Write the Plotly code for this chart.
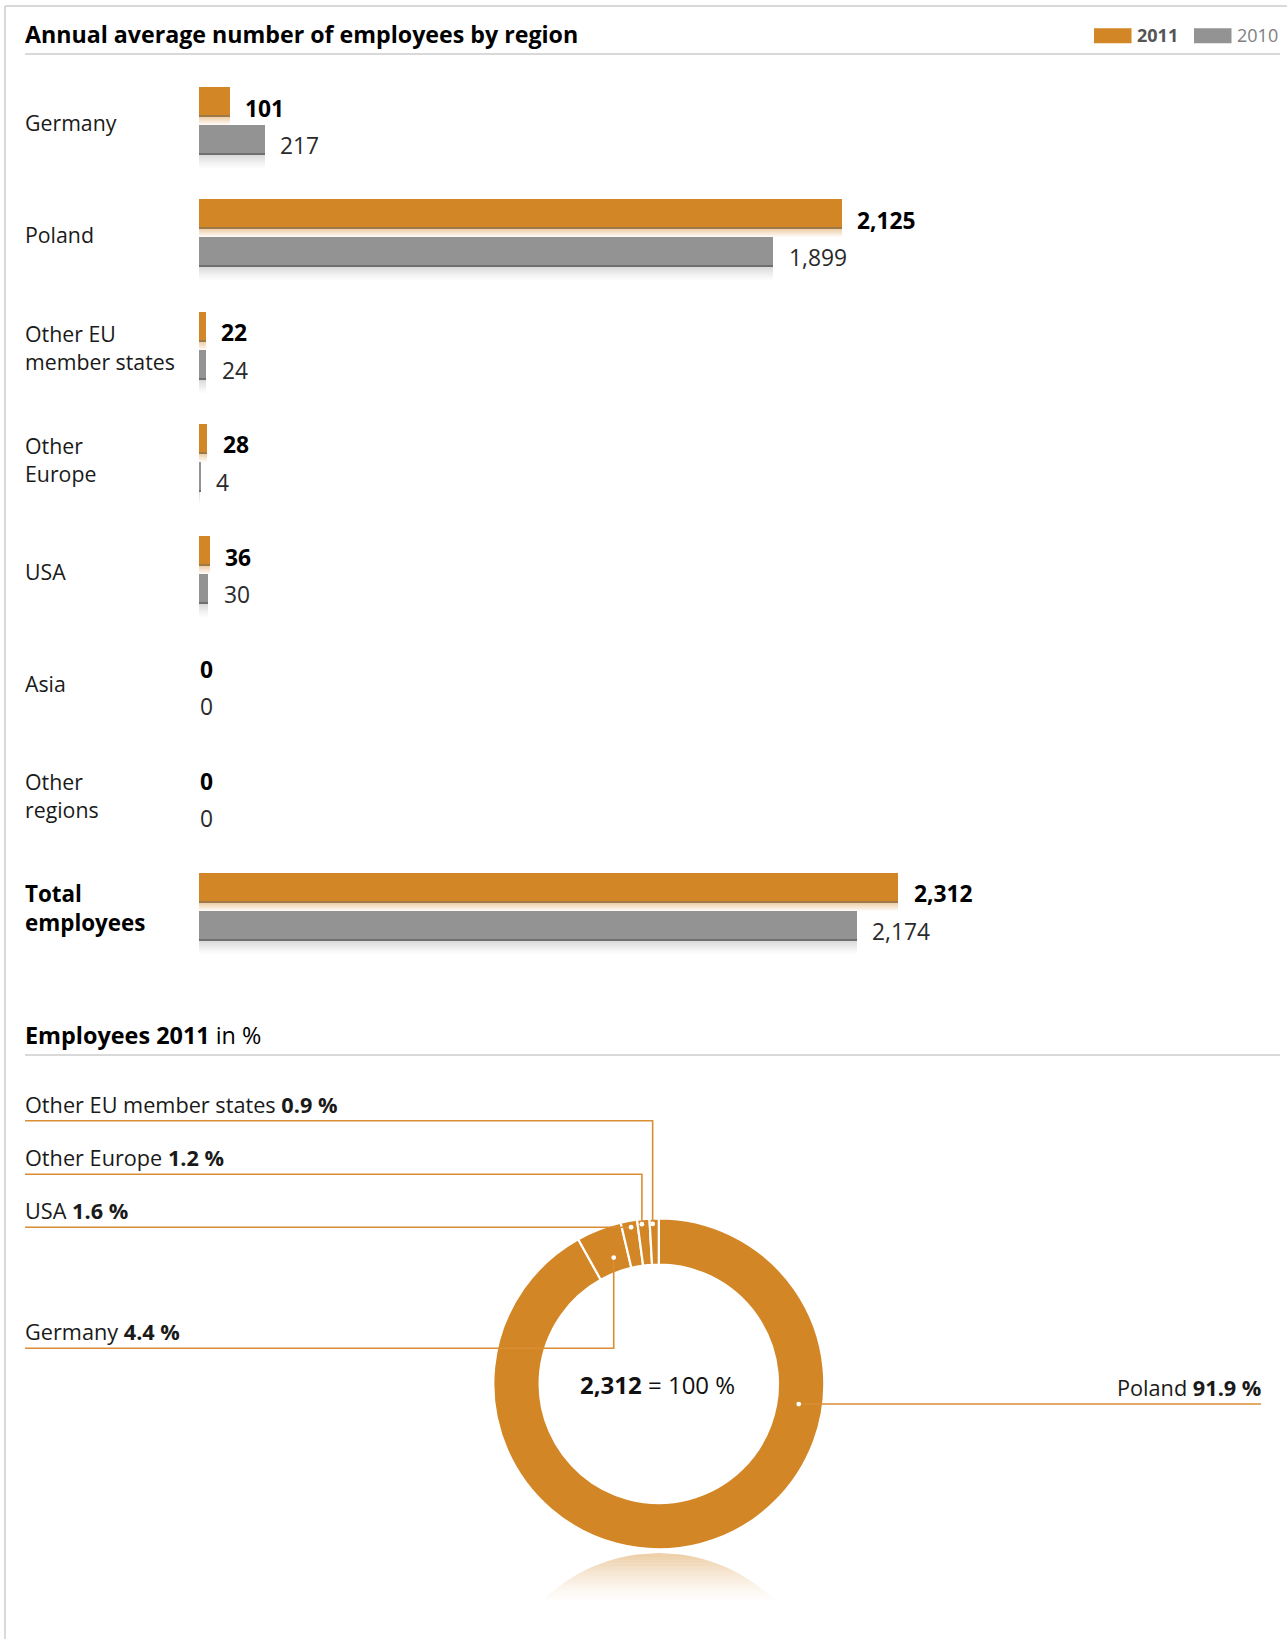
import math
import plotly.graph_objects as go

# ---- data -------------------------------------------------------------
categories = ["Germany", "Poland", "Other EU member states", "Other Europe",
              "USA", "Asia", "Other regions", "Total employees"]
category_labels = ["Germany", "Poland", "Other EU<br>member states", "Other<br>Europe",
                   "USA", "Asia", "Other<br>regions", "<b>Total<br>employees</b>"]
employees_2011 = [101, 2125, 22, 28, 36, 0, 0, 2312]
employees_2010 = [217, 1899, 24, 4, 30, 0, 0, 2174]

share_labels = ["Poland", "Germany", "USA", "Other Europe", "Other EU member states"]
share_2011 = [91.9, 4.4, 1.6, 1.2, 0.9]

# ---- styling ----------------------------------------------------------
W, H = 1287, 1639
ORANGE = "#D38625"
ORANGE_EDGE = "#9E7A4A"
GREY = "#939393"
GREY_EDGE = "#707070"
RULE = "#CCCCCC"
FONT = "Open Sans"
TXT = "#1A1A1A"
TEXT_X = 23  # left text edge (annotation box adds ~2px padding)


def px(x):
    return x / W


def py(y):
    return 1 - y / H


# bar block geometry (pixels)
BAR_X0 = 198.5
PX_PER_UNIT = 0.3025
ROW_PX = 112.2
ROW0_CENTER = 120.8
n = len(categories)
y_top = ROW0_CENTER - 0.5 * ROW_PX
y_bot = ROW0_CENTER + (n - 0.5) * ROW_PX
x_max = (W - BAR_X0) / PX_PER_UNIT


def u(p):
    """pixel distance -> category-axis units"""
    return p / ROW_PX


fig = go.Figure()


def bar(values, offset_px, height_px, color):
    fig.add_trace(go.Bar(
        y=categories, x=values, orientation="h",
        offset=u(offset_px), width=u(height_px),
        marker=dict(color=color, line=dict(width=0)),
        showlegend=False, hoverinfo="skip",
        xaxis="x", yaxis="y",
    ))


# 2011 bars with bottom edge and soft reflection
bar(employees_2011, -34, 30, ORANGE)
bar(employees_2011, -6, 2, ORANGE_EDGE)
for k in range(8):
    a = 0.38 * (1 - k / 8)
    bar(employees_2011, -4 + k, 1.05, f"rgba(211,134,37,{a:.3f})")

# 2010 bars with bottom edge and soft reflection
bar(employees_2010, 4, 30, GREY)
bar(employees_2010, 32, 2, GREY_EDGE)
for k in range(14):
    a = 0.32 * (1 - k / 14) ** 1.3
    bar(employees_2010, 34 + k, 1.05, f"rgba(140,140,140,{a:.3f})")

annotations = []

# category names
for cat, lab in zip(categories, category_labels):
    bold = lab.startswith("<b>")
    annotations.append(dict(
        x=px(TEXT_X), xref="paper", y=cat, yref="y", yshift=-2,
        text=lab, showarrow=False, xanchor="left", yanchor="middle", align="left",
        font=dict(family=FONT, size=22.4 if bold else 21.3, color="#000000" if bold else TXT),
    ))

# value labels
for cat, v in zip(categories, employees_2011):
    annotations.append(dict(
        x=v, xref="x", y=cat, yref="y", xshift=14 if v > 0 else -1, yshift=12.5,
        text=f"<b>{v:,}</b>", showarrow=False, xanchor="left", yanchor="middle",
        font=dict(family=FONT, size=22.8, color="#000000"),
    ))
for cat, v in zip(categories, employees_2010):
    annotations.append(dict(
        x=v, xref="x", y=cat, yref="y", xshift=14 if v > 0 else -1, yshift=-25,
        text=f"{v:,}", showarrow=False, xanchor="left", yanchor="middle",
        font=dict(family=FONT, size=22.8, color="#2A2A2A"),
    ))

# titles
annotations.append(dict(
    x=px(TEXT_X), y=py(34.5), xref="paper", yref="paper", xanchor="left", yanchor="middle",
    text="<b>Annual average number of employees by region</b>", showarrow=False,
    font=dict(family=FONT, size=23.2, color="#000000"),
))
annotations.append(dict(
    x=px(TEXT_X), y=py(1035), xref="paper", yref="paper", xanchor="left", yanchor="middle",
    text="<b>Employees 2011</b> in %", showarrow=False,
    font=dict(family=FONT, size=23.4, color="#000000"),
))

shapes = []

# frame and rules
shapes += [
    dict(type="line", xref="paper", yref="paper", x0=px(5), x1=1, y0=py(6), y1=py(6),
         line=dict(color=RULE, width=1.5)),
    dict(type="line", xref="paper", yref="paper", x0=px(5), x1=px(5), y0=py(6), y1=0,
         line=dict(color=RULE, width=1.5)),
    dict(type="line", xref="paper", yref="paper", x0=px(25), x1=px(1280), y0=py(54), y1=py(54),
         line=dict(color=RULE, width=1.5)),
    dict(type="line", xref="paper", yref="paper", x0=px(25), x1=px(1280), y0=py(1055), y1=py(1055),
         line=dict(color=RULE, width=1.5)),
]

# legend
for x0, x1, col, txt, tcol in [(1094, 1131.5, ORANGE, "<b>2011</b>", "#555555"),
                               (1194, 1231.5, GREY, "2010", "#808080")]:
    shapes.append(dict(type="rect", xref="paper", yref="paper",
                       x0=px(x0), x1=px(x1), y0=py(43.3), y1=py(28.3),
                       fillcolor=col, line=dict(width=0)))
    annotations.append(dict(
        x=px(x1 + 3.5), y=py(35.5), xref="paper", yref="paper", xanchor="left", yanchor="middle",
        text=txt, showarrow=False, font=dict(family=FONT, size=18, color=tcol),
    ))

# ---- donut -------------------------------------------------------------
CX, CY, R_OUT = 658.8, 1383.8, 165.5
fig.add_trace(go.Pie(
    labels=share_labels, values=share_2011, sort=False, direction="clockwise",
    rotation=0, hole=0.72, textinfo="none", hoverinfo="label+percent",
    marker=dict(colors=[ORANGE] * len(share_2011), line=dict(color="white", width=2.2)),
    domain=dict(x=[px(CX - R_OUT), px(CX + R_OUT)], y=[py(CY + R_OUT), py(CY - R_OUT)]),
    showlegend=False,
))

annotations.append(dict(
    x=px(CX - 1), y=py(CY + 1), xref="paper", yref="paper", xanchor="center", yanchor="middle",
    text=f"<b>{employees_2011[-1]:,}</b> = 100 %", showarrow=False,
    font=dict(family=FONT, size=24, color="#111111"),
))

# callouts: label anchor x, underline y, side, dot radius, dot position inside slice
callouts = {
    "Other EU member states": dict(x=25, yu=1120.7, side="left", r=160, f=0.32),
    "Other Europe": dict(x=25, yu=1174.3, side="left", r=160.5, f=0.35),
    "USA": dict(x=25, yu=1227.2, side="left", r=159, f=0.57),
    "Germany": dict(x=25, yu=1348.3, side="left", r=134, f=0.6),
    "Poland": dict(x=1261, yu=1404, side="right", r=141.4, f=0.297),
}
LEADER = "#D98E34"
cum = 0.0
for lab, s in zip(share_labels, share_2011):
    a0 = 360 * cum / 100
    a1 = 360 * (cum + s) / 100
    cum += s
    c = callouts[lab]
    th = math.radians(a0 + c["f"] * (a1 - a0))
    dx = CX + c["r"] * math.sin(th)
    dy = CY - c["r"] * math.cos(th)
    path = f"M {px(c['x'])},{py(c['yu'])} L {px(dx)},{py(c['yu'])} L {px(dx)},{py(dy)}"
    shapes.append(dict(type="path", xref="paper", yref="paper", path=path,
                       line=dict(color=LEADER, width=1.6)))
    rr = 2.4
    shapes.append(dict(type="circle", xref="paper", yref="paper",
                       x0=px(dx - rr), x1=px(dx + rr), y0=py(dy + rr), y1=py(dy - rr),
                       fillcolor="white", line=dict(width=0)))
    left = c["side"] == "left"
    annotations.append(dict(
        x=px(c["x"] - 2 if left else c["x"] + 2), y=py(c["yu"] - 16.5), xref="paper", yref="paper",
        xanchor="left" if left else "right", yanchor="middle",
        text=f"{lab} <b>{s:.1f} %</b>", showarrow=False,
        font=dict(family=FONT, size=21.7, color=TXT),
    ))

# fading mirror of the ring below the donut
REF_TOP, REF_BOT = 1553.0, 1602.0
rc_y = REF_TOP + R_OUT
steps = 33
for i in range(steps):
    ya = REF_TOP + (REF_BOT - REF_TOP) * i / steps
    yb = REF_TOP + (REF_BOT - REF_TOP) * (i + 1) / steps
    wa = math.sqrt(max(R_OUT ** 2 - (rc_y - ya) ** 2, 0))
    wb = math.sqrt(max(R_OUT ** 2 - (rc_y - yb) ** 2, 0))
    a = 0.42 * (1 - i / steps) ** 1.4
    path = (f"M {px(CX - wa)},{py(ya)} L {px(CX + wa)},{py(ya)} "
            f"L {px(CX + wb)},{py(yb)} L {px(CX - wb)},{py(yb)} Z")
    shapes.append(dict(type="path", xref="paper", yref="paper", path=path,
                       fillcolor=ORANGE, opacity=a, line=dict(width=0), layer="below"))

fig.update_layout(
    width=W, height=H, margin=dict(l=0, r=0, t=0, b=0),
    paper_bgcolor="white", plot_bgcolor="rgba(0,0,0,0)",
    barmode="overlay", bargap=0,
    xaxis=dict(domain=[px(BAR_X0), 1], range=[0, x_max], visible=False, fixedrange=True),
    yaxis=dict(domain=[py(y_bot), py(y_top)], type="category", categoryorder="array",
               categoryarray=categories, range=[n - 0.5, -0.5], visible=False, fixedrange=True),
    annotations=annotations, shapes=shapes,
    font=dict(family=FONT),
)

fig.write_html("out.html")
